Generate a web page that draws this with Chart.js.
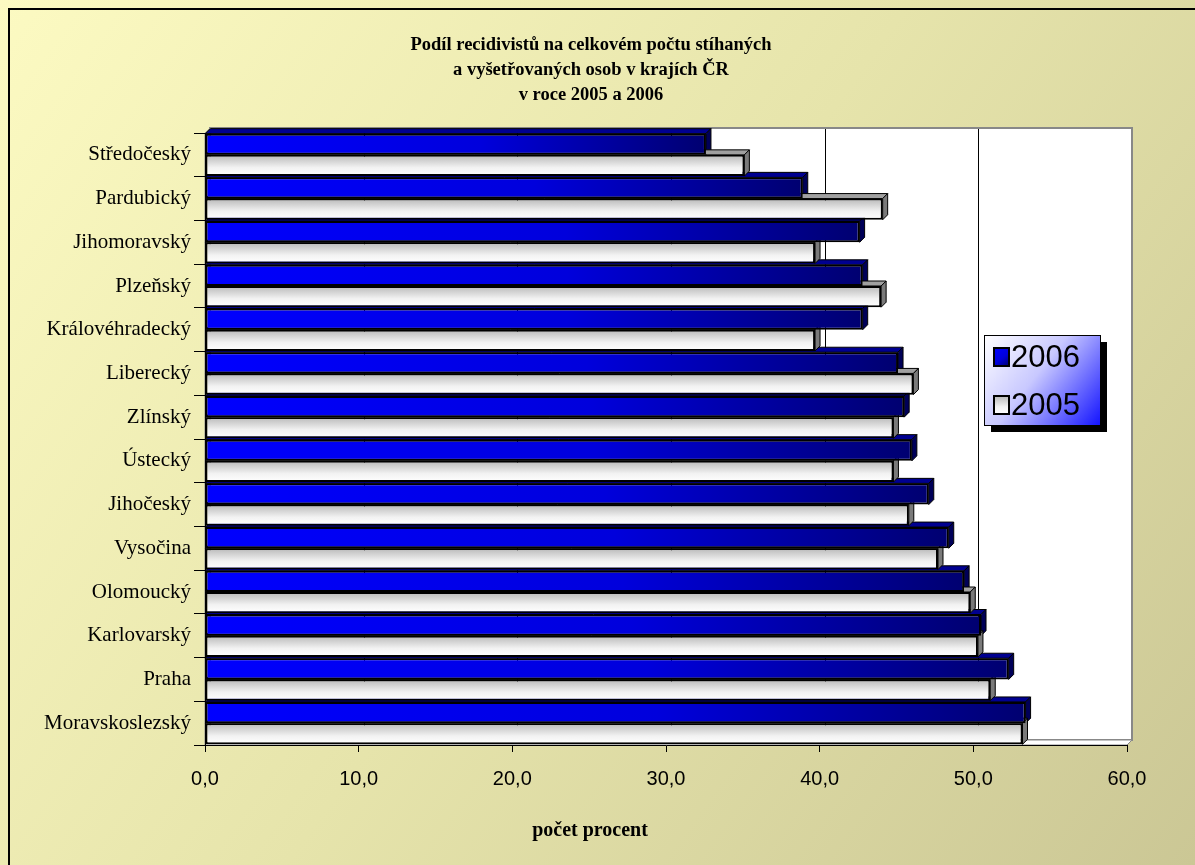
<!DOCTYPE html>
<html>
<head>
<meta charset="utf-8">
<script src="https://cdn.jsdelivr.net/npm/chart.js@4/dist/chart.umd.min.js"></script>
<style>
  html, body { margin: 0; padding: 0; background: #fff; }
  canvas { display: block; }
</style>
</head>
<body>
<canvas id="chart" width="1195" height="865"></canvas>
<script>
// Data
const regions = ['Středočeský', 'Pardubický', 'Jihomoravský', 'Plzeňský', 'Královéhradecký',
  'Liberecký', 'Zlínský', 'Ústecký', 'Jihočeský', 'Vysočina', 'Olomoucký', 'Karlovarský',
  'Praha', 'Moravskoslezský'];
const values2006 = [32.6, 38.9, 42.6, 42.8, 42.8, 45.1, 45.5, 46.0, 47.1, 48.4, 49.4, 50.5, 52.3, 53.4];
const values2005 = [35.1, 44.1, 39.7, 44.0, 39.7, 46.1, 44.8, 44.8, 45.8, 47.7, 49.8, 50.3, 51.1, 53.2];
const seriesLabels = ['2006', '2005'];
const xTickValues = [0, 10, 20, 30, 40, 50, 60];
const xTickLabels = ['0,0', '10,0', '20,0', '30,0', '40,0', '50,0', '60,0'];
const titleLines = ['Podíl recidivistů na celkovém počtu stíhaných', 'a vyšetřovaných osob v krajích ČR', 'v roce 2005 a 2006'];
const xTitle = 'počet procent';

const DEPTH = 5;
const SERIF = '"Liberation Serif", "Times New Roman", serif';
const SANS = '"Liberation Sans", Arial, sans-serif';

// Gradient fill for the front face of one bar
function barGradient(ctx, datasetIndex, left, top, right, bottom) {
  let g;
  if (datasetIndex === 0) {
    g = ctx.createLinearGradient(left, top, right, bottom);
    g.addColorStop(0, '#0000ff');
    g.addColorStop(0.55, '#0000dc');
    g.addColorStop(1, '#000070');
  } else {
    g = ctx.createLinearGradient(0, top, 0, bottom);
    g.addColorStop(0, '#b8b8b8');
    g.addColorStop(0.6, '#f2f2f2');
    g.addColorStop(1, '#ffffff');
  }
  return g;
}

function poly(ctx, pts, fill, stroke) {
  ctx.beginPath();
  ctx.moveTo(pts[0][0], pts[0][1]);
  for (let i = 1; i < pts.length; i++) ctx.lineTo(pts[i][0], pts[i][1]);
  ctx.closePath();
  if (fill) { ctx.fillStyle = fill; ctx.fill(); }
  if (stroke) { ctx.strokeStyle = stroke; ctx.stroke(); }
}

// Background, walls, 3D bar sides, titles and legend
const threeD = {
  id: 'threeD',
  beforeDraw(chart) {
    const { ctx, chartArea: a, scales: { x } } = chart;
    const d = DEPTH;
    ctx.save();
    const bg = ctx.createLinearGradient(0, 0, chart.width, chart.height);
    bg.addColorStop(0, '#fcfac2');
    bg.addColorStop(0.5, '#e6e4ab');
    bg.addColorStop(1, '#cbc795');
    ctx.fillStyle = bg;
    ctx.fillRect(0, 0, chart.width, chart.height);
    ctx.strokeStyle = '#000';
    ctx.lineWidth = 2;
    ctx.strokeRect(9, 9, chart.width + 20, chart.height + 20);

    // back wall
    ctx.fillStyle = '#fff';
    ctx.fillRect(a.left + d, a.top - d, a.width, a.height);
    ctx.lineWidth = 1;
    xTickValues.forEach(v => {
      const px = Math.round(x.getPixelForValue(v) + d) + 0.5;
      ctx.beginPath();
      ctx.moveTo(px, a.top - d);
      ctx.lineTo(px, a.bottom - d);
      ctx.strokeStyle = '#000';
      ctx.stroke();
    });
    ctx.lineWidth = 2;
    ctx.strokeStyle = '#888';
    ctx.strokeRect(a.left + d, a.top - d, a.width, a.height);

    // floor and left wall
    ctx.lineWidth = 1;
    poly(ctx, [[a.left, a.bottom], [a.left + d, a.bottom - d], [a.right + d, a.bottom - d], [a.right, a.bottom]], '#fff', '#888');
    poly(ctx, [[a.left, a.top], [a.left + d, a.top - d], [a.left + d, a.bottom - d], [a.left, a.bottom]], '#e0deb0', '#888');
    ctx.restore();
  },
  beforeDatasetsDraw(chart) {
    const ctx = chart.ctx;
    const d = DEPTH;
    ctx.save();
    ctx.lineWidth = 1;
    chart.data.datasets.forEach((ds, di) => {
      const meta = chart.getDatasetMeta(di);
      meta.data.forEach(bar => {
        const top = bar.y - bar.height / 2;
        const bottom = bar.y + bar.height / 2;
        const left = bar.base;
        const right = bar.x;
        // own options object per bar, so each gets its own gradient
        bar.options = Object.assign({}, bar.options, {
          backgroundColor: barGradient(ctx, di, left, top, right, bottom)
        });
        const topFace = di === 0 ? '#000090' : '#a0a0a0';
        const sideFace = di === 0 ? '#000058' : '#7a7a7a';
        poly(ctx, [[left, top], [left + d, top - d], [right + d, top - d], [right, top]], topFace, '#000');
        poly(ctx, [[right, top], [right + d, top - d], [right + d, bottom - d], [right, bottom]], sideFace, '#000');
      });
    });
    ctx.restore();
  },
  afterDraw(chart) {
    const ctx = chart.ctx;
    ctx.save();

    // chart title and axis title
    ctx.fillStyle = '#000';
    ctx.textAlign = 'center';
    ctx.textBaseline = 'middle';
    ctx.font = 'bold 18.5px ' + SERIF;
    titleLines.forEach((line, i) => ctx.fillText(line, 591, 45 + i * 25));
    ctx.font = 'bold 20px ' + SERIF;
    ctx.fillText(xTitle, 590, 831);

    // legend
    const bx = 984, by = 335, bw = 116, bh = 90;
    ctx.fillStyle = '#000';
    ctx.fillRect(bx + 7, by + 7, bw, bh);
    const g = ctx.createLinearGradient(bx, by, bx + bw, by + bh);
    g.addColorStop(0, '#ffffff');
    g.addColorStop(0.45, '#c8c8ff');
    g.addColorStop(1, '#1414ff');
    ctx.fillStyle = g;
    ctx.fillRect(bx, by, bw, bh);
    ctx.strokeStyle = '#000';
    ctx.lineWidth = 1;
    ctx.strokeRect(bx + 0.5, by + 0.5, bw, bh);

    seriesLabels.forEach((label, i) => {
      const cy = by + 22 + i * 48;
      const sx = bx + 10, sy = cy - 9, sw = 15, sh = 18;
      ctx.fillStyle = barGradient(ctx, i, sx, sy, sx + sw, sy + sh);
      ctx.fillRect(sx, sy, sw, sh);
      ctx.lineWidth = 2;
      ctx.strokeStyle = '#000';
      ctx.strokeRect(sx, sy, sw, sh);
      ctx.fillStyle = '#000';
      ctx.font = '31px ' + SANS;
      ctx.textBaseline = 'middle';
      ctx.textAlign = 'left';
      ctx.fillText(label, sx + sw + 2, cy + 1);
    });
    ctx.restore();
  }
};

new Chart(document.getElementById('chart'), {
  type: 'bar',
  data: {
    labels: regions,
    datasets: [
      { label: seriesLabels[0], data: values2006, backgroundColor: '#0000ff', borderColor: '#000', borderWidth: 2, borderSkipped: false },
      { label: seriesLabels[1], data: values2005, backgroundColor: '#ffffff', borderColor: '#000', borderWidth: 2, borderSkipped: false }
    ]
  },
  options: {
    responsive: false,
    animation: false,
    indexAxis: 'y',
    datasets: { bar: { categoryPercentage: 0.97, barPercentage: 1.0 } },
    layout: { padding: { left: 0, right: 68, top: 133, bottom: 0 } },
    plugins: {
      legend: { display: false },
      tooltip: { enabled: false },
      title: { display: false }
    },
    scales: {
      x: {
        min: 0,
        max: 60,
        afterBuildTicks: s => { s.ticks = xTickValues.map(v => ({ value: v })); },
        afterFit: s => { s.height = 120; },
        ticks: {
          callback: (v, i) => xTickLabels[i],
          color: '#000',
          font: { family: SANS, size: 20 },
          padding: 15,
          maxRotation: 0
        },
        grid: { drawOnChartArea: false, drawTicks: true, tickLength: 7, color: '#000' },
        border: { color: '#000', width: 1 },
        title: { display: false }
      },
      y: {
        afterFit: s => { s.width = 205; },
        ticks: {
          color: '#000',
          font: { family: SERIF, size: 21 },
          padding: 3,
          autoSkip: false
        },
        grid: { drawOnChartArea: false, drawTicks: true, tickLength: 11, color: '#000', offset: true },
        border: { color: '#000', width: 1 }
      }
    }
  },
  plugins: [threeD]
});
</script>
</body>
</html>
